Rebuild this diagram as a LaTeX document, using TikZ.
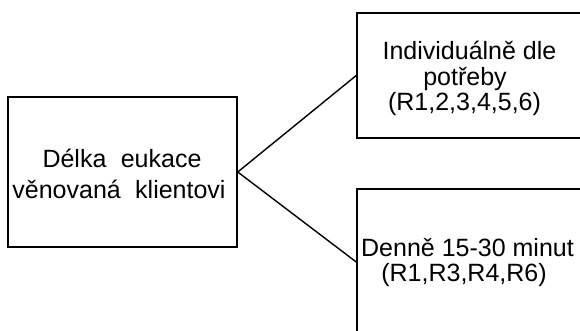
\documentclass[tikz,border=0pt]{standalone}
\usepackage{fontspec}
\setmainfont{Liberation Sans}
\begin{document}
\begin{tikzpicture}[x=1pt,y=-1pt,
  box/.style={draw, line width=1.5pt, inner sep=0pt},
  lbl/.style={font=\fontsize{25}{28}\selectfont, inner sep=0pt, anchor=base},
  conn/.style={line width=1.4pt}]
\useasboundingbox (0,0) rectangle (580,331);
\node[box, minimum width=229pt, minimum height=150pt] (L) at (122.5,172) {};
\node[box, minimum width=233pt, minimum height=125pt] (T) at (473.5,75.5) {};
\node[box, minimum width=233pt, minimum height=146pt] (B) at (473.5,262) {};
\node[lbl] (l1) at (122,167.3) {Délka\hspace{0.3em} eukace};
\node[lbl] (l2) at (119,198.3) {věnovaná\hspace{0.3em} klientovi};
\node[lbl] (t1) at (469.5,59.3) {Individuálně dle};
\node[lbl] (t2) at (465,86) {potřeby};
\node[lbl] (t3) at (464.5,111) {(R1,2,3,4,5,6)};
\node[lbl] (b1) at (467.5,256.7) {Denně 15-30 minut};
\node[lbl] (b2) at (464,281.7) {(R1,R3,R4,R6)};
\draw[conn] (L.east) -- (T.west);
\draw[conn] (L.east) -- (B.west);
\end{tikzpicture}
\end{document}
